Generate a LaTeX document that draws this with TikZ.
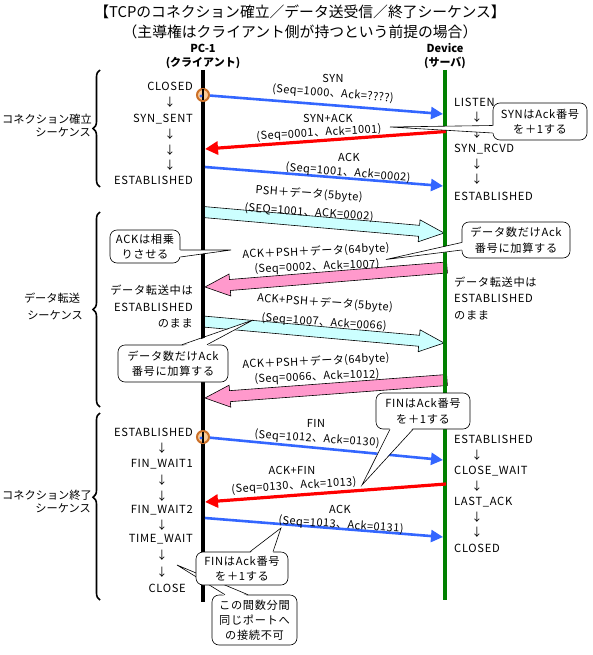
\documentclass[tikz,border=0pt]{standalone}
\usepackage{fontspec}
\setmainfont{Noto Sans CJK JP}
\newfontfamily\spacedfont[LetterSpace=6]{Noto Sans CJK JP}
\newfontfamily\lblfont[LetterSpace=4]{Noto Sans CJK JP}
\usetikzlibrary{arrows.meta,calc,decorations.pathreplacing}
\definecolor{arrblue}{RGB}{51,102,255}
\definecolor{arrred}{RGB}{255,0,0}
\definecolor{devgreen}{RGB}{0,128,0}
\definecolor{datacyan}{RGB}{204,255,255}
\definecolor{datapink}{RGB}{255,153,204}
\definecolor{ringfill}{RGB}{250,204,153}
\definecolor{ringdraw}{RGB}{204,112,40}
\tikzset{
  txt/.style={inner sep=0pt, font=\spacedfont\fontsize{11.2}{14}\selectfont, text height=9.5pt, text depth=1.5pt},
  lst/.style={txt, anchor=east},
  rst/.style={txt, anchor=west},
  brl/.style={inner sep=0pt, font=\fontsize{11.2}{14}\selectfont, text height=9.5pt, text depth=1.5pt},
  hdr/.style={inner sep=0pt, font=\bfseries\fontsize{11}{13}\selectfont},
  ttl/.style={inner sep=0pt, font=\fontsize{14.8}{17}\selectfont},
  lbl/.style={inner sep=0pt, font=\lblfont\fontsize{11}{14}\selectfont},
  blueline/.style={draw=arrblue, line width=2.6pt, -{Triangle[length=12pt,width=12pt]}},
  redline/.style={draw=arrred, line width=3.2pt, -{Triangle[length=13pt,width=13pt]}},
  bigarr/.style={draw=black, line width=0.6pt},
  callbox/.style={draw=black, line width=0.6pt, fill=white, rounded corners=7pt, align=center, inner sep=0pt, font=\spacedfont\fontsize{11.2}{15.5}\selectfont},
  tailline/.style={draw=black, line width=0.6pt},
  bracepath/.style={line width=1.6pt, decorate},
  ring/.style={circle, draw=ringdraw, fill=ringfill, line width=2pt, minimum size=12pt, inner sep=0pt},
}
\newcommand{\bigarrow}[3]{%
  \coordinate (ha) at ($(#2)!25pt!(#1)$);
  \filldraw[bigarr, fill=#3]
    ($(#1)!5.5pt!90:(#2)$) -- ($(ha)!5.5pt!90:(#2)$) -- ($(ha)!11pt!90:(#2)$) -- (#2)
    -- ($(ha)!11pt!-90:(#2)$) -- ($(ha)!5.5pt!-90:(#2)$) -- ($(#1)!5.5pt!-90:(#2)$) -- cycle;
}
\begin{document}
\begin{tikzpicture}[x=1pt,y=-1pt]
\fill[white] (0,0) rectangle (592,655);
\useasboundingbox (0,0) rectangle (592,655);

% title and headers
\node[ttl] (title1) at (300,12) {【TCPのコネクション確立／データ送受信／終了シーケンス】};
\node[ttl] (title2) at (300,32) {（主導権はクライアント側が持つという前提の場合）};
\node[hdr] (pcname) at (203,48) {PC-1};
\node[hdr] (pcsub) at (203,63) {(クライアント)};
\node[hdr] (dvname) at (445,48) {Device};
\node[hdr] (dvsub) at (445,63) {(サーバ)};

% big data arrows
\coordinate (c1a) at (203,212); \coordinate (c1b) at (444,233);
\coordinate (k1a) at (447,267.5); \coordinate (k1b) at (205,287);
\coordinate (c2a) at (203,321.5); \coordinate (c2b) at (444,343);
\coordinate (k2a) at (447,380); \coordinate (k2b) at (205,398);
\bigarrow{c1a}{c1b}{datacyan}
\bigarrow{k1a}{k1b}{datapink}
\bigarrow{c2a}{c2b}{datacyan}
\bigarrow{k2a}{k2b}{datapink}

% life lines
\coordinate (pcTop) at (203,70); \coordinate (pcBot) at (203,602);
\coordinate (dvTop) at (445,70); \coordinate (dvBot) at (445,600);
\draw[line width=4pt] (pcTop) -- (pcBot);
\draw[line width=4pt, devgreen] (dvTop) -- (dvBot);

% thin arrows
\node[ring] (ring1) at (203,95) {};
\draw[line width=2pt] (203,89.5) -- (203,100.5);
\fill[arrblue] (201,96) circle (1.6pt);
\node[ring] (ring2) at (203,437) {};
\draw[line width=2pt] (203,431.5) -- (203,442.5);
\fill[arrblue] (201,438) circle (1.6pt);

\coordinate (dSYN) at (443,114);
\coordinate (dSA) at (446,131.5); \coordinate (pSA) at (205,149);
\coordinate (pA1) at (205,167); \coordinate (dA1) at (443,186);
\coordinate (dFIN) at (443,460);
\coordinate (dAF) at (446,484); \coordinate (pAF) at (205,502);
\coordinate (pA2) at (205,518); \coordinate (dA2) at (443,537);
\draw[blueline] (ring1) -- (dSYN);
\draw[redline] (dSA) -- (pSA);
\draw[blueline] (pA1) -- (dA1);
\draw[blueline] (ring2) -- (dFIN);
\draw[redline] (dAF) -- (pAF);
\draw[blueline] (pA2) -- (dA2);

% arrow labels
\node[lbl] (l1a) at (333,78) {SYN};
\node[lbl, rotate=-4.5] (l1b) at (333,94) {(Seq=1000、Ack=????)};
\node[lbl] (l2a) at (328,118.5) {SYN+ACK};
\node[lbl, rotate=3.5] (l2b) at (319,133) {(Seq=0001、Ack=1001)};
\node[lbl] (l3a) at (349,157) {ACK};
\node[lbl, rotate=-5] (l3b) at (348,173) {(Seq=1001、Ack=0002)};
\node[lbl, rotate=-4] (l4a) at (309,194) {PSH＋データ(5byte)};
\node[lbl, rotate=-4] (l4b) at (309,212.5) {(SEQ=1001、ACK=0002)};
\node[lbl, rotate=2.5] (l5a) at (316,251.5) {ACK＋PSH＋データ(64byte)};
\node[lbl, rotate=2.3] (l5b) at (317,267) {(Seq=0002、Ack=1007)};
\node[lbl, rotate=-4] (l6a) at (325,303) {ACK+PSH＋データ(5byte)};
\node[lbl, rotate=-4] (l6b) at (324,322.5) {(Seq=1007、Ack=0066)};
\node[lbl, rotate=2.5] (l7a) at (316,361.5) {ACK＋PSH＋データ(64byte)};
\node[lbl, rotate=2.3] (l7b) at (317,377) {(Seq=0066、Ack=1012)};
\node[lbl] (l8a) at (316,423) {FIN};
\node[lbl, rotate=-4] (l8b) at (317,439) {(Seq=1012、Ack=0130)};
\node[lbl] (l9a) at (292,470.5) {ACK+FIN};
\node[lbl, rotate=3.5] (l9b) at (294,486) {(Seq=0130、Ack=1013)};
\node[lbl] (l10a) at (340,509) {ACK};
\node[lbl, rotate=-4] (l10b) at (341,525) {(Seq=1013、Ack=0131)};

% braces
\draw[bracepath, decoration={brace, amplitude=7pt}] (100,187) -- (100,70);
\draw[bracepath, decoration={brace, amplitude=7pt}] (100,407) -- (100,212);
\draw[bracepath, decoration={brace, amplitude=7pt, aspect=0.55}] (100,600) -- (100,413);
\node[brl, anchor=east] (bl1a) at (92,120) {コネクション確立};
\node[brl, anchor=east] (bl1b) at (91,133) {シーケンス};
\node[brl] (bl2a) at (52,298) {データ転送};
\node[brl] (bl2b) at (55,315) {シーケンス};
\node[brl, anchor=east] (bl3a) at (92,495) {コネクション終了};
\node[brl, anchor=east] (bl3b) at (91,508) {シーケンス};

% client states
\node[lst] (lCLOSED) at (193,87) {CLOSED};
\node[txt] (la1) at (170,103) {↓};
\node[lst] (lSYNSENT) at (193,119) {SYN\_SENT};
\node[txt] (la2) at (170,135) {↓};
\node[txt] (la3) at (170,150) {↓};
\node[txt] (la4) at (170,165) {↓};
\node[lst] (lEST1) at (193,181) {ESTABLISHED};
\node[lst] (lmid1) at (193,290) {データ転送中は};
\node[lst] (lmid2) at (193,307) {ESTABLISHED};
\node[lst] (lmid3) at (193,323) {のまま};
\node[lst] (lEST2) at (193,432) {ESTABLISHED};
\node[txt] (lb1) at (162,448) {↓};
\node[lst] (lFW1) at (193,463) {FIN\_WAIT1};
\node[txt] (lb2) at (162,480) {↓};
\node[txt] (lb3) at (162,496) {↓};
\node[lst] (lFW2) at (193,509) {FIN\_WAIT2};
\node[txt] (lb4) at (162,525) {↓};
\node[lst] (lTW) at (193,538) {TIME\_WAIT};
\node[txt] (lb5) at (162,555) {↓};
\node[txt] (lb6) at (162,572) {↓};
\node[lst] (lCLOSE) at (186,588) {CLOSE};

% server states
\node[rst] (rLISTEN) at (454,103) {LISTEN};
\node[txt] (ra1) at (477,118) {↓};
\node[txt] (ra2) at (477,134) {↓};
\node[rst] (rSYNRCVD) at (454,149) {SYN\_RCVD};
\node[txt] (ra3) at (477,164) {↓};
\node[txt] (ra4) at (477,179) {↓};
\node[rst] (rEST1) at (454,196) {ESTABLISHED};
\node[rst] (rmid1) at (454,282) {データ転送中は};
\node[rst] (rmid2) at (454,298) {ESTABLISHED};
\node[rst] (rmid3) at (454,315) {のまま};
\node[rst] (rEST2) at (454,439) {ESTABLISHED};
\node[txt] (rb1) at (477,455) {↓};
\node[rst] (rCW) at (454,470) {CLOSE\_WAIT};
\node[txt] (rb2) at (477,486) {↓};
\node[rst] (rLA) at (454,501) {LAST\_ACK};
\node[txt] (rb3) at (477,517) {↓};
\node[txt] (rb4) at (477,532) {↓};
\node[rst] (rCLOSED) at (454,548) {CLOSED};

% callout A
\node[callbox, minimum width=94pt, minimum height=37pt] (cA) at (540,121.5) {SYNはAck番号\\を＋1する};
\coordinate (tA) at (390,127);
\fill[white] ($(cA.west)+(1.5,4)$) -- (tA) -- ($(cA.west)+(1.5,11.5)$) -- cycle;
\draw[tailline] ($(cA.west)+(0,4)$) -- (tA) -- ($(cA.west)+(0,11.5)$);

% callout B
\node[callbox, minimum width=70pt, minimum height=33pt] (cB) at (145,246.5) {ACKは相乗\\りさせる};
\coordinate (tB) at (231,250);
\fill[white] ($(cB.east)+(-1.5,3.5)$) -- (tB) -- ($(cB.east)+(-1.5,10.5)$) -- cycle;
\draw[tailline] ($(cB.east)+(0,3.5)$) -- (tB) -- ($(cB.east)+(0,10.5)$);

% callout C
\node[callbox, minimum width=108pt, minimum height=36pt] (cC) at (516,240) {データ数だけAck\\番号に加算する};
\coordinate (tC) at (386,259.5);
\fill[white] ($(cC.west)+(1.5,2.5)$) -- (tC) -- ($(cC.west)+(1.5,10)$) -- cycle;
\draw[tailline] ($(cC.west)+(0,2.5)$) -- (tC) -- ($(cC.west)+(0,10)$);

% callout D
\node[callbox, minimum width=110pt, minimum height=37pt] (cD) at (173,363.5) {データ数だけAck\\番号に加算する};
\coordinate (tD) at (253,320);
\fill[white] ($(cD.north)+(9,1.5)$) -- (tD) -- ($(cD.north)+(34,1.5)$) -- cycle;
\draw[tailline] ($(cD.north)+(9,0)$) -- (tD) -- ($(cD.north)+(34,0)$);

% callout E
\node[callbox, minimum width=94pt, minimum height=36pt] (cE) at (423,411) {FINはAck番号\\を＋1する};
\coordinate (tE) at (362,485);
\fill[white] ($(cE.south)+(-33,-1.5)$) -- (tE) -- ($(cE.south)+(-10,-1.5)$) -- cycle;
\draw[tailline] ($(cE.south)+(-33,0)$) -- (tE) -- ($(cE.south)+(-10,0)$);

% callout G (below, its tail passes under F)
\node[callbox, minimum width=85pt, minimum height=50pt, font=\spacedfont\fontsize{11.2}{15}\selectfont] (cG) at (254.5,620) {この間数分間\\同じポートへ\\の接続不可};
\coordinate (tG) at (177,565);
\fill[white] ($(cG.north)+(-29.5,1.5)$) -- (tG) -- ($(cG.north)+(-6.5,1.5)$) -- cycle;
\draw[tailline] ($(cG.north)+(-29.5,0)$) -- (tG) -- ($(cG.north)+(-6.5,0)$);

% callout F
\node[callbox, minimum width=92pt, minimum height=33pt] (cF) at (242,568.5) {FINはAck番号\\を＋1する};
\coordinate (tF) at (281,528);
\fill[white] ($(cF.north)+(8,1.5)$) -- (tF) -- ($(cF.north)+(31,1.5)$) -- cycle;
\draw[tailline] ($(cF.north)+(8,0)$) -- (tF) -- ($(cF.north)+(31,0)$);
\end{tikzpicture}
\end{document}
